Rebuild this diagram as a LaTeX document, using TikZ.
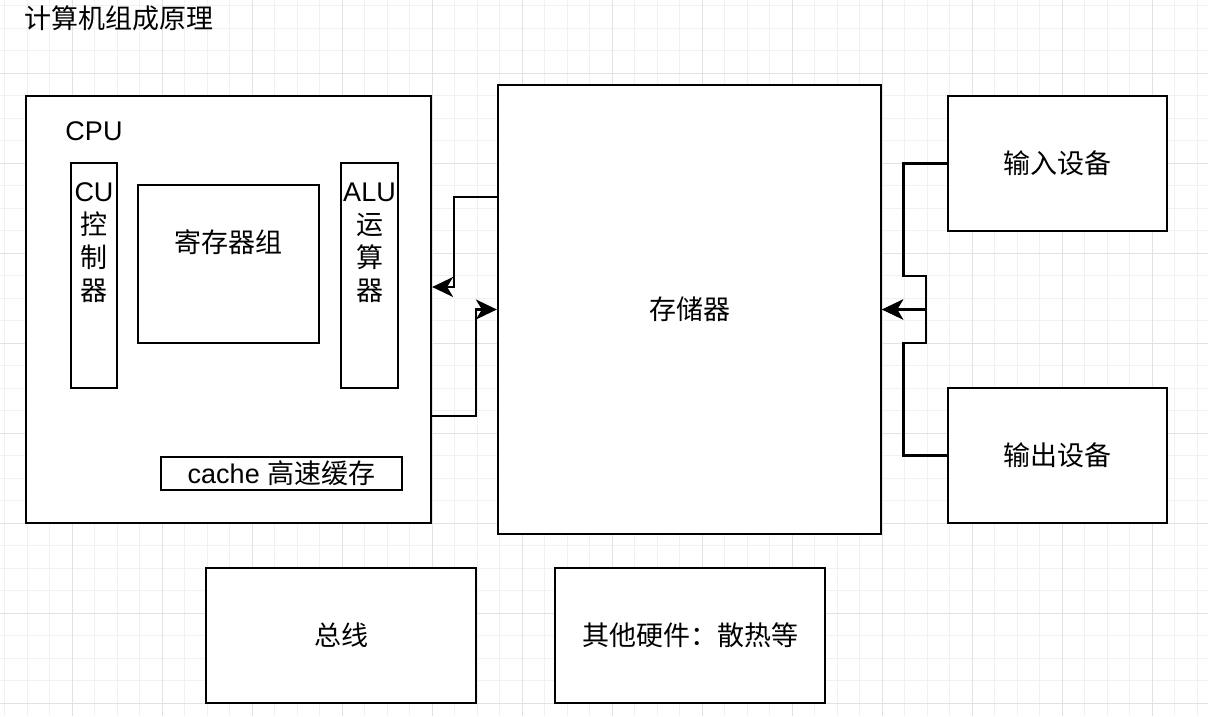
\documentclass[tikz,border=0pt]{standalone}
\usepackage{fontspec}
\setmainfont{Liberation Sans}
\newfontfamily\cjk{Noto Sans CJK SC}
\usetikzlibrary{arrows.meta,positioning}
\definecolor{gridminor}{HTML}{F1F1F1}
\definecolor{gridmajor}{HTML}{E2E2E2}
\tikzset{
  blk/.style ={draw=black,line width=2.25pt,fill=white,inner sep=0pt},
  txt/.style ={inner sep=0pt,align=center,font=\fontsize{27}{33}\selectfont},
  flow/.style={-{Stealth[length=21pt,width=20pt,inset=6pt]},line width=2.25pt,draw=black}
}

\begin{document}
\begin{tikzpicture}[x=1pt,y=-1pt]
  \fill[white] (0,0) rectangle (1208,716);
  \useasboundingbox (0,0) rectangle (1208,716);
  % grid
  \foreach \i in {0,...,53} \draw[gridminor,line width=1pt] (4.5+22.5*\i,0) -- (4.5+22.5*\i,716);
  \foreach \i in {0,...,31} \draw[gridminor,line width=1pt] (0,5.5+22.5*\i) -- (1208,5.5+22.5*\i);
  \foreach \i in {0,...,12} \draw[gridmajor,line width=1pt] (72+90*\i,0) -- (72+90*\i,716);
  \foreach \i in {0,...,7} \draw[gridmajor,line width=1pt] (0,73+90*\i) -- (1208,73+90*\i);

  \node[txt,anchor=west] (title) at (24,18) {\cjk 计算机组成原理};

  % CPU
  \node[blk,minimum width=405pt,minimum height=427pt] (cpu) at (228.5,309.5) {};
  \node[txt] (cpulbl) at (94,131) {CPU};
  \node[blk,minimum width=46pt,minimum height=225pt] (cu) at (94,275.5) {};
  \node[txt] (cutxt) at ([yshift=33pt]cu.center) {CU\\\cjk 控\\\cjk 制\\\cjk 器};
  \node[blk,minimum width=181pt,minimum height=158pt] (regs) at (228.5,264) {};
  \node[txt] (regstxt) at (228.5,242) {\cjk 寄存器组};
  \node[blk,minimum width=57pt,minimum height=225pt] (alu) at (369.5,275.5) {};
  \node[txt] (alutxt) at ([yshift=33pt]alu.center) {ALU\\\cjk 运\\\cjk 算\\\cjk 器};
  \node[blk,minimum width=241pt,minimum height=33pt] (cache) at (281.5,473.5) {};
  \node[txt] (cachetxt) at (cache.center) {cache {\cjk 高速缓存}};

  % memory and devices
  \node[blk,minimum width=383pt,minimum height=449pt] (mem) at (689.5,309.5) {};
  \node[txt] (memtxt) at (mem.center) {\cjk 存储器};
  \node[blk,minimum width=219pt,minimum height=135pt] (inp) at (1057.5,163.5) {};
  \node[txt] (inptxt) at (inp.center) {\cjk 输入设备};
  \node[blk,minimum width=219pt,minimum height=135pt] (outp) at (1057.5,455.5) {};
  \node[txt] (outptxt) at (outp.center) {\cjk 输出设备};
  \node[blk,minimum width=270pt,minimum height=135pt] (bus) at (341,635.5) {};
  \node[txt] (bustxt) at (bus.center) {\cjk 总线};
  \node[blk,minimum width=270pt,minimum height=135pt] (misc) at (690,635.5) {};
  \node[txt] (misctxt) at (misc.center) {\cjk 其他硬件：散热等};

  % connectors
  \draw[flow] (mem.west |- 0,197) -| (454,287) -- (cpu.east |- 0,287);
  \draw[flow] (cpu.east |- 0,416) -| (476,309.5) -- (mem.west);
  \draw[flow] (inp.west) -| (903.5,276) -| (926,309.5) -- (mem.east);
  \draw[flow] (outp.west) -| (903.5,343) -| (926,309.5) -- (mem.east);
\end{tikzpicture}
\end{document}
